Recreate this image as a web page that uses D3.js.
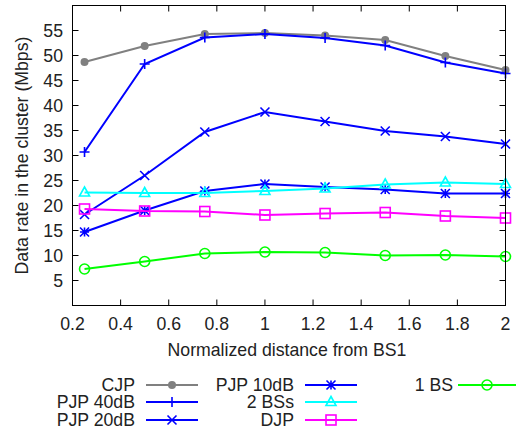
<!DOCTYPE html>
<html>
<head>
<meta charset="utf-8">
<script src="https://cdn.jsdelivr.net/npm/d3@7"></script>
<style>
  body { margin: 0; background: #fff; }
  svg { display: block; }
  text { font-family: "Liberation Sans", Arial, sans-serif; font-size: 17.7px; fill: #222; }
</style>
</head>
<body>
<svg id="chart" width="523" height="433"></svg>
<script>
// distances (normalized from BS1)
var distances = [0.25, 0.5, 0.75, 1, 1.25, 1.5, 1.75, 2];

var cjp      = [48.7, 51.9, 54.3, 54.5, 54.0, 53.1, 49.9, 47.1];
var pjp40    = [30.7, 48.3, 53.6, 54.3, 53.5, 52.0, 48.6, 46.4];
var pjp20    = [18.2, 26.0, 34.7, 38.7, 36.8, 34.9, 33.8, 32.3];
var pjp10    = [14.7, 19.0, 22.9, 24.3, 23.7, 23.2, 22.4, 22.4];
var twoBS    = [22.6, 22.5, 22.5, 22.9, 23.4, 24.2, 24.6, 24.3];
var djp      = [19.3, 18.9, 18.8, 18.1, 18.4, 18.6, 17.9, 17.5];
var oneBS    = [7.3, 8.8, 10.4, 10.7, 10.6, 10.0, 10.1, 9.8];

var xTicks = [0.2, 0.4, 0.6, 0.8, 1, 1.2, 1.4, 1.6, 1.8, 2];
var yTicks = [5, 10, 15, 20, 25, 30, 35, 40, 45, 50, 55];

var series = [
  { name: 'CJP',      vals: cjp,   color: '#808080', mark: 'dot' },
  { name: 'PJP 40dB', vals: pjp40, color: '#0000ff', mark: 'plus' },
  { name: 'PJP 20dB', vals: pjp20, color: '#0000ff', mark: 'cross' },
  { name: 'PJP 10dB', vals: pjp10, color: '#0000ff', mark: 'star' },
  { name: '2 BSs',    vals: twoBS, color: '#00ffff', mark: 'tri' },
  { name: 'DJP',      vals: djp,   color: '#ff00ff', mark: 'box' },
  { name: '1 BS',     vals: oneBS, color: '#00ff00', mark: 'ring' }
];

var svg = d3.select('#chart');
var pLeft = 72.5, pRight = 505.5, pTop = 5.5, pBottom = 305.5;

var x = d3.scaleLinear().domain([0.2, 2]).range([pLeft, pRight]);
var y = d3.scaleLinear().domain([0, 60]).range([pBottom, pTop]);

// markers
function drawMark(g, type, color) {
  var s;
  if (type === 'dot') {
    g.append('circle').attr('r', 4).attr('fill', color);
  } else if (type === 'plus') {
    s = 5;
    g.append('path').attr('d', 'M' + (-s) + ',0H' + s + 'M0,' + (-s) + 'V' + s)
      .attr('stroke', color).attr('stroke-width', 1.6).attr('fill', 'none');
  } else if (type === 'cross') {
    s = 4.5;
    g.append('path').attr('d', 'M' + (-s) + ',' + (-s) + 'L' + s + ',' + s + 'M' + (-s) + ',' + s + 'L' + s + ',' + (-s))
      .attr('stroke', color).attr('stroke-width', 1.6).attr('fill', 'none');
  } else if (type === 'star') {
    s = 4.5;
    g.append('path').attr('d', 'M' + (-s) + ',' + (-s) + 'L' + s + ',' + s + 'M' + (-s) + ',' + s + 'L' + s + ',' + (-s) +
        'M' + (-s) + ',0H' + s + 'M0,' + (-s) + 'V' + s)
      .attr('stroke', color).attr('stroke-width', 1.6).attr('fill', 'none');
  } else if (type === 'tri') {
    g.append('path').attr('d', 'M0,-5.5L5,3.5L-5,3.5Z')
      .attr('stroke', color).attr('stroke-width', 1.6).attr('fill', 'none');
  } else if (type === 'box') {
    g.append('rect').attr('x', -5).attr('y', -5).attr('width', 10).attr('height', 10)
      .attr('stroke', color).attr('stroke-width', 1.6).attr('fill', 'none');
  } else if (type === 'ring') {
    g.append('circle').attr('r', 5)
      .attr('stroke', color).attr('stroke-width', 1.6).attr('fill', 'none');
  }
}

// ticks (inward, mirrored)
var tickLen = 6;
var ax = svg.append('g').attr('stroke', '#000').attr('stroke-width', 1);
xTicks.forEach(function(t) {
  ax.append('line').attr('x1', x(t)).attr('x2', x(t)).attr('y1', pBottom).attr('y2', pBottom - tickLen);
  ax.append('line').attr('x1', x(t)).attr('x2', x(t)).attr('y1', pTop).attr('y2', pTop + tickLen);
});
yTicks.forEach(function(t) {
  ax.append('line').attr('x1', pLeft).attr('x2', pLeft + tickLen).attr('y1', y(t)).attr('y2', y(t));
  ax.append('line').attr('x1', pRight).attr('x2', pRight - tickLen).attr('y1', y(t)).attr('y2', y(t));
});

svg.selectAll('.xl').data(xTicks).enter().append('text')
  .attr('x', function(d) { return x(d); }).attr('y', 330)
  .attr('text-anchor', 'middle').text(function(d) { return d3.format('~g')(d); });
svg.selectAll('.yl').data(yTicks).enter().append('text')
  .attr('x', 63).attr('y', function(d) { return y(d) + 6; })
  .attr('text-anchor', 'end').text(function(d) { return d; });

svg.append('text').attr('x', 287).attr('y', 356).attr('text-anchor', 'middle')
  .text('Normalized distance from BS1');
svg.append('text').attr('transform', 'translate(28,' + ((pTop + pBottom) / 2) + ') rotate(-90)')
  .attr('text-anchor', 'middle').text('Data rate in the cluster (Mbps)');

// lines
var line = d3.line().x(function(d, i) { return x(distances[i]); }).y(function(d) { return y(d); });
series.forEach(function(s) {
  var g = svg.append('g');
  g.append('path').datum(s.vals).attr('d', line)
    .attr('fill', 'none').attr('stroke', s.color).attr('stroke-width', 2);
  s.vals.forEach(function(v, i) {
    drawMark(g.append('g').attr('transform', 'translate(' + x(distances[i]) + ',' + y(v) + ')'), s.mark, s.color);
  });
});

// frame
svg.append('rect').attr('x', pLeft).attr('y', pTop).attr('width', pRight - pLeft).attr('height', pBottom - pTop)
  .attr('fill', 'none').attr('stroke', '#000').attr('stroke-width', 1);

// legend
var legCols = [
  { textX: 135, x1: 146, x2: 198, mx: 172 },
  { textX: 294, x1: 305, x2: 357, mx: 331 },
  { textX: 453, x1: 458, x2: 516, mx: 487 }
];
var legRows = [385, 402, 420];
series.forEach(function(s, i) {
  var c = legCols[Math.floor(i / 3)], r = legRows[i % 3];
  svg.append('text').attr('x', c.textX).attr('y', r + 6).attr('text-anchor', 'end').text(s.name);
  svg.append('line').attr('x1', c.x1).attr('x2', c.x2).attr('y1', r).attr('y2', r)
    .attr('stroke', s.color).attr('stroke-width', 2);
  drawMark(svg.append('g').attr('transform', 'translate(' + c.mx + ',' + r + ')'), s.mark, s.color);
});
</script>
</body>
</html>
